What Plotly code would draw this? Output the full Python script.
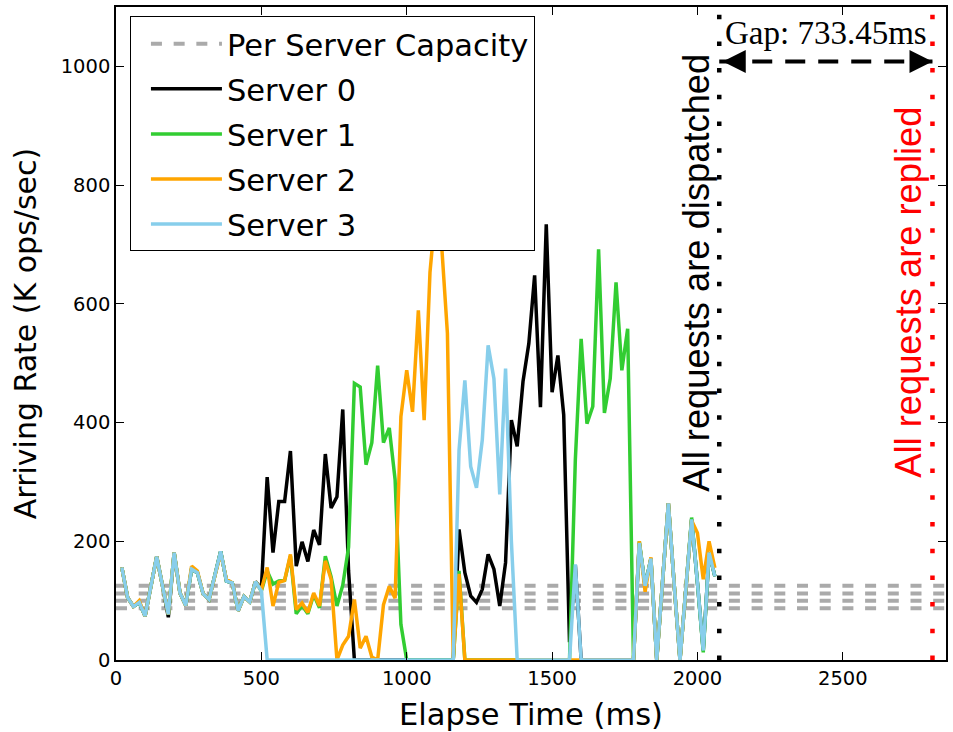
import plotly.graph_objects as go

# ---------------- data ----------------
time_ms = [20, 40, 60, 80, 100, 120, 140, 160, 180, 200,
           220, 240, 260, 280, 300, 320, 340, 360, 380, 400,
           420, 440, 460, 480, 500, 520, 540, 560, 580, 600,
           620, 640, 660, 680, 700, 720, 740, 760, 780, 800,
           820, 840, 860, 880, 900, 920, 940, 960, 980, 1000,
           1020, 1040, 1060, 1080, 1100, 1120, 1140, 1160, 1180, 1200,
           1220, 1240, 1260, 1280, 1300, 1320, 1340, 1360, 1380, 1400,
           1420, 1440, 1460, 1480, 1500, 1520, 1540, 1560, 1580, 1600,
           1620, 1640, 1660, 1680, 1700, 1720, 1740, 1760, 1780, 1800,
           1820, 1840, 1860, 1880, 1900, 1920, 1940, 1960, 1980, 2000,
           2020, 2040, 2060]

server0 = [156, 105, 90, 97, 74, 125, 174, 125, 72, 181,
           113, 92, 153, 147, 111, 102, 140, 183, 133, 130,
           83, 107, 98, 132, 120, 308, 181, 267, 267, 352,
           158, 199, 166, 219, 194, 347, 256, 275, 422, 150,
           0, 0, 0, 0, 0, 0, 0, 0, 0, 0,
           0, 0, 0, 0, 0, 0, 0, 0, 220, 147,
           108, 97, 119, 178, 153, 91, 164, 404, 360, 469,
           533, 648, 426, 734, 451, 513, 413, 30, 160, 0,
           0, 0, 0, 0, 0, 0, 0, 0, 0, 197,
           125, 171, 0, 132, 264, 127, 0, 119, 237, 130,
           16, 181, 141]

server1 = [156, 105, 90, 97, 74, 125, 174, 125, 77, 181,
           113, 92, 153, 147, 111, 102, 140, 183, 133, 130,
           83, 107, 98, 132, 116, 150, 128, 133, 134, 175,
           78, 92, 78, 110, 88, 175, 140, 91, 126, 190,
           466, 460, 329, 366, 496, 366, 391, 304, 60, 0,
           0, 0, 0, 0, 0, 0, 0, 0, 150, 0,
           0, 0, 0, 0, 0, 0, 0, 0, 0, 0,
           0, 0, 0, 0, 0, 0, 0, 0, 337, 541,
           398, 427, 692, 416, 474, 636, 488, 558, 0, 200,
           125, 171, 0, 132, 264, 127, 0, 119, 240, 130,
           13, 181, 141]

server2 = [156, 105, 90, 100, 74, 125, 174, 125, 77, 181,
           113, 92, 158, 150, 111, 102, 140, 180, 136, 130,
           83, 107, 98, 132, 118, 156, 91, 131, 134, 178,
           85, 96, 80, 113, 91, 167, 136, 0, 25, 40,
           102, 20, 40, 5, 0, 93, 124, 104, 410, 488,
           418, 589, 404, 653, 760, 700, 550, 0, 145, 0,
           0, 0, 0, 0, 0, 0, 0, 0, 0, 0,
           0, 0, 0, 0, 0, 0, 0, 0, 0, 0,
           0, 0, 0, 0, 0, 0, 0, 0, 0, 200,
           115, 173, 0, 132, 264, 127, 0, 119, 235, 214,
           136, 200, 155]

server3 = [156, 105, 90, 97, 74, 125, 174, 125, 77, 181,
           113, 92, 153, 147, 111, 102, 140, 183, 133, 130,
           83, 107, 98, 132, 116, 0, 0, 0, 0, 0,
           0, 0, 0, 0, 0, 0, 0, 0, 0, 0,
           0, 0, 0, 0, 0, 0, 0, 0, 0, 0,
           0, 0, 0, 0, 0, 0, 0, 0, 354, 471,
           326, 290, 371, 530, 474, 279, 491, 200, 0, 0,
           0, 0, 0, 0, 0, 0, 0, 0, 161, 0,
           0, 0, 0, 0, 0, 0, 0, 0, 0, 197,
           125, 171, 0, 132, 264, 127, 0, 119, 237, 130,
           16, 181, 141]

capacity_levels = [125, 112, 100, 87]
server_names = ["Server 0", "Server 1", "Server 2", "Server 3"]
server_colors = ["#000000", "#32cd32", "#ffa500", "#87ceeb"]
dispatch_done_ms = 2075
gap_ms = 733.45
replied_ms = dispatch_done_ms + gap_ms
x_max = 2855
y_max = 1100
x_ticks = [0, 500, 1000, 1500, 2000, 2500]
y_ticks = [0, 200, 400, 600, 800, 1000]
arrow_y = 1008

# ---------------- figure ----------------
fig = go.Figure()

for k, level in enumerate(capacity_levels):
    fig.add_trace(go.Scatter(
        x=[0, x_max], y=[level, level], mode="lines",
        line=dict(color="#aaaaaa", width=4, dash="11px,11.7px"),
        name="Per Server Capacity", legendgroup="cap",
        showlegend=(k == 0), hoverinfo="skip"))

for name, color, vals in zip(server_names, server_colors,
                             [server0, server1, server2, server3]):
    fig.add_trace(go.Scatter(
        x=time_ms, y=vals, mode="lines", name=name, legendgroup=name,
        line=dict(color=color, width=3.5)))

# vertical markers
for xv, col in [(dispatch_done_ms, "#000000"), (replied_ms, "#ff0000")]:
    fig.add_shape(type="line", xref="x", yref="y",
                  x0=xv, x1=xv, y0=0, y1=y_max,
                  line=dict(color=col, width=4.5, dash="4.5px,22.2px"))

# gap arrow (dashed shaft + two heads)
fig.add_shape(type="line", xref="x", yref="y",
              x0=dispatch_done_ms, x1=replied_ms, y0=arrow_y, y1=arrow_y,
              line=dict(color="black", width=4, dash="20px,13px"))
fig.add_annotation(x=dispatch_done_ms + 12, y=arrow_y, ax=22, ay=0, text="",
                   showarrow=True, arrowhead=2, arrowsize=1.15,
                   arrowwidth=4, arrowcolor="black")
fig.add_annotation(x=replied_ms, y=arrow_y, ax=-22, ay=0, text="",
                   showarrow=True, arrowhead=2, arrowsize=1.15,
                   arrowwidth=4, arrowcolor="black")

fig.add_annotation(x=(dispatch_done_ms + replied_ms) / 2, y=1057,
                   text="Gap: 733.45ms", showarrow=False,
                   font=dict(family="Liberation Serif", size=33, color="black"))

fig.add_annotation(x=1996, y=653, text="All requests are dispatched",
                   textangle=-90, showarrow=False,
                   font=dict(family="Liberation Sans", size=36.3, color="black"))
fig.add_annotation(x=2727, y=620, text="All requests are replied",
                   textangle=-90, showarrow=False,
                   font=dict(family="Liberation Sans", size=36.3, color="#ff0000"))

axis_common = dict(
    ticks="inside", ticklen=8, tickwidth=1, tickcolor="black",
    showline=True, linecolor="black", linewidth=1.5, mirror="ticks",
    showgrid=False, zeroline=False,
    tickfont=dict(family="DejaVu Sans", size=19.5, color="black"),
)

fig.update_layout(
    width=953, height=732,
    margin=dict(l=116, r=5, t=5, b=71),
    paper_bgcolor="white", plot_bgcolor="white",
    font=dict(family="DejaVu Sans", color="black"),
    xaxis=dict(range=[0, x_max], tickvals=x_ticks,
               title=dict(text="Elapse Time (ms)",
                          font=dict(family="DejaVu Sans", size=30.5)),
               **axis_common),
    yaxis=dict(range=[0, y_max], tickvals=y_ticks,
               title=dict(text="Arriving Rate (K ops/sec)",
                          font=dict(family="DejaVu Sans", size=30)),
               **axis_common),
    legend=dict(x=0.0168, y=0.9855, xanchor="left", yanchor="top",
                bgcolor="white", bordercolor="black", borderwidth=1,
                font=dict(family="DejaVu Sans", size=30.5),
                indentation=15, itemwidth=71, entrywidth=330,
                traceorder="grouped", tracegroupgap=2.4),
    showlegend=True,
)

fig.write_html("out.html")
